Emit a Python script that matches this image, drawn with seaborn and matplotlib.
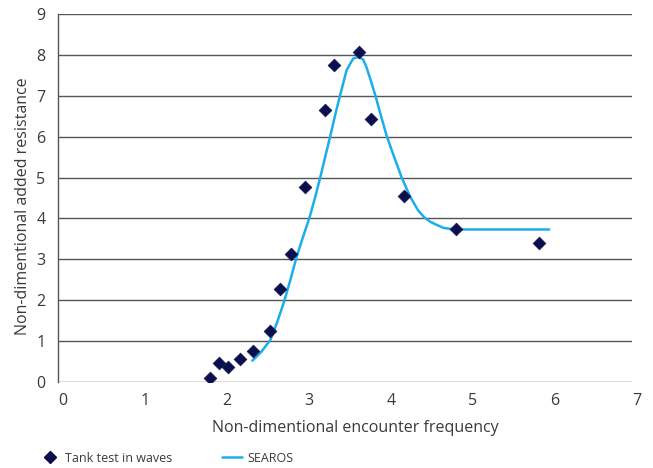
import matplotlib
matplotlib.use("Agg")
import matplotlib.pyplot as plt
import matplotlib.transforms as mtransforms
import seaborn as sns
import pandas as pd
from matplotlib.lines import Line2D

# Tank test data (scatter)
tank_x = [1.85, 1.96, 2.07, 2.22, 2.38, 2.59, 2.71, 2.84, 3.01, 3.25, 3.36, 3.67, 3.82, 4.22, 4.85, 5.87]
tank_y = [0.10, 0.46, 0.37, 0.56, 0.76, 1.25, 2.27, 3.13, 4.78, 6.65, 7.75, 8.06, 6.43, 4.55, 3.73, 3.41]

# SEAROS curve
searos_x = [2.37, 2.48, 2.59, 2.67, 2.75, 2.83, 2.91, 2.99, 3.07, 3.14, 3.20, 3.26, 3.32, 3.38, 3.44,
            3.52, 3.60, 3.66, 3.72, 3.76, 3.81, 3.87, 3.94, 4.01, 4.10, 4.19, 4.29, 4.39, 4.47,
            4.54, 4.62, 4.70, 4.80, 4.90, 5.20, 5.60, 5.99]
searos_y = [0.52, 0.74, 1.03, 1.45, 1.92, 2.47, 3.06, 3.56, 4.04, 4.55, 5.02, 5.52, 6.01, 6.53, 7.01,
            7.63, 7.91, 7.95, 7.89, 7.71, 7.40, 7.01, 6.50, 6.01, 5.50, 5.01, 4.55, 4.20, 4.02,
            3.92, 3.84, 3.77, 3.74, 3.73, 3.73, 3.73, 3.73]

x_ticks = [0, 1, 2, 3, 4, 5, 6, 7]
y_ticks = [0, 1, 2, 3, 4, 5, 6, 7, 8, 9]

sns.set_style("white")
plt.rcParams['font.family'] = ['Open Sans', 'DejaVu Sans']

MARK = "#0b0f4d"
LINE = "#1aaeea"
TXT = "#3a3a3a"
GRID = "#555555"

fig = plt.figure(figsize=(6.53, 4.68), dpi=100)
ax = fig.add_axes([58/653, 1-382/468, (632-58)/653, (382-14)/468])

tank = pd.DataFrame({"x": tank_x, "y": tank_y})
searos = pd.DataFrame({"x": searos_x, "y": searos_y})

for yv in y_ticks:
    ax.axhline(yv, color=GRID, lw=1.0, zorder=0)

sns.lineplot(data=searos, x="x", y="y", ax=ax, color=LINE, lw=1.8, sort=False, zorder=2)
sns.scatterplot(data=tank, x="x", y="y", ax=ax, marker="D", s=42, color=MARK,
                edgecolor=MARK, linewidth=0.5, zorder=3)

ax.set_xlim(0, 7)
ax.set_ylim(0, 9)
ax.set_xticks(x_ticks)
ax.set_yticks(y_ticks)
ax.tick_params(axis="both", length=0, labelsize=11.5, labelcolor=TXT)
ax.tick_params(axis="x", pad=8)
ax.tick_params(axis="y", pad=9)

shift = mtransforms.ScaledTranslation(5/100, 0, fig.dpi_scale_trans)
for lbl in ax.get_xticklabels():
    lbl.set_transform(lbl.get_transform() + shift)

for s in ["top", "right", "bottom"]:
    ax.spines[s].set_visible(False)
ax.spines["left"].set_color(GRID)
ax.spines["left"].set_linewidth(1.0)

ax.set_xlabel("Non-dimentional encounter frequency", fontsize=11.5, color=TXT)
ax.set_ylabel("Non-dimentional added resistance", fontsize=11.5, color=TXT)
ax.xaxis.set_label_coords((355-58)/(632-58), -(428-382)/(382-14))
ax.xaxis.label.set_va("center")
ax.yaxis.set_label_coords(-(58-23)/(632-58), (382-206)/(382-14))
ax.yaxis.label.set_va("center")

handles = [
    Line2D([], [], marker="D", color=MARK, linestyle="none", markersize=6),
    Line2D([], [], color=LINE, lw=1.8),
]
fig.legend(handles, ["Tank test in waves", "SEAROS"], loc="center left",
           bbox_to_anchor=(40/653, 1-458/468), ncol=2, frameon=False, fontsize=9,
           handlelength=1.6, handletextpad=0.4, columnspacing=4.0, labelcolor=TXT,
           borderaxespad=0, borderpad=0)

fig.savefig("out.png", dpi=100)
